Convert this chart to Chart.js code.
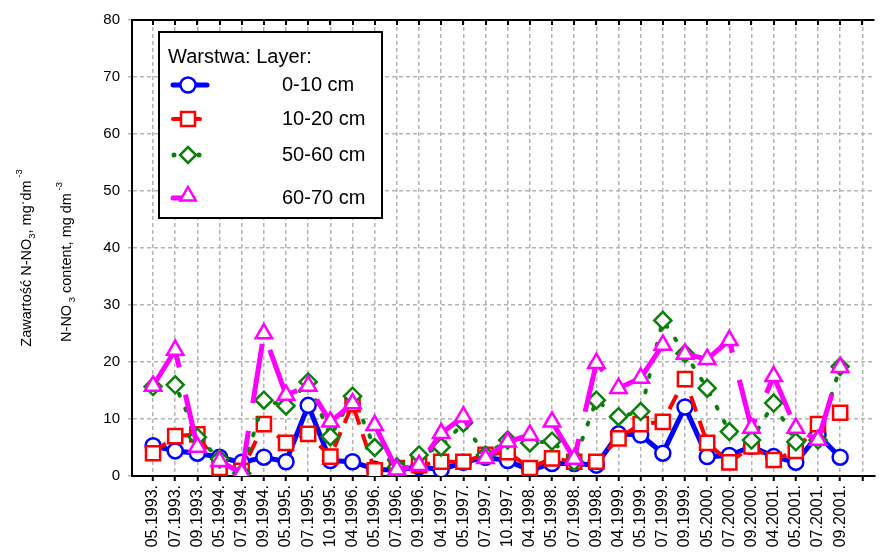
<!DOCTYPE html>
<html><head><meta charset="utf-8">
<script src="https://cdn.jsdelivr.net/npm/chart.js@4.4.1/dist/chart.umd.min.js"></script>
<style>html,body{margin:0;padding:0;background:#fff;}#wrap{width:887px;height:557px;position:relative;}</style>
</head><body><div id="wrap"><canvas id="c" width="887" height="557"></canvas></div>
<script>
const categories = ['05.1993.','07.1993.','09.1993.','05.1994.','07.1994.','09.1994.','05.1995.','07.1995.','10.1995.','04.1996.','05.1996.','07.1996.','09.1996.','04.1997.','05.1997.','07.1997.','10.1997.','04.1998.','05.1998.','07.1998.','09.1998.','04.1999.','05.1999.','07.1999.','09.1999.','05.2000.','07.2000.','09.2000.','04.2001.','05.2001.','07.2001.','09.2001.'];
const layer0_10  = [5.3,4.4,4.0,3.3,2.4,3.3,2.5,12.4,2.7,2.5,1.2,1.0,1.6,1.1,2.4,3.3,2.7,1.0,2.2,2.2,1.9,7.4,7.2,4.0,12.1,3.4,3.6,5.2,3.4,2.4,7.2,3.3];
const layer10_20 = [4.0,7.0,7.3,1.4,0.9,9.1,5.8,7.4,3.4,12.6,1.0,1.4,1.9,2.5,2.5,3.7,4.2,1.4,3.1,2.5,2.5,6.6,9.1,9.5,17.0,5.8,2.4,5.2,2.8,4.4,9.1,11.1];
const layer50_60 = [15.7,16.0,6.8,3.0,0.5,13.3,12.3,16.5,6.9,14.0,5.0,1.6,3.7,5.1,9.3,3.7,6.3,5.8,6.1,2.5,13.3,10.4,11.3,27.3,21.5,15.4,7.8,6.3,12.8,6.0,6.3,19.2];
const layer60_70 = [15.8,22.1,5.1,2.6,0.5,25.0,14.2,15.8,9.5,12.7,8.9,1.1,1.9,7.5,10.4,3.1,6.0,7.2,9.5,3.0,19.8,15.4,17.2,23.0,21.4,20.5,23.8,8.4,17.5,8.4,6.3,19.1];
const yTicks = [0,10,20,30,40,50,60,70,80];
const seriesNames = ['0-10 cm','10-20 cm','50-60 cm','60-70 cm'];
const legendTitle = 'Warstwa: Layer:';

const FONT = 'Arial, "Liberation Sans", sans-serif';
const BLUE='#0000ff', RED='#ff0000', GREEN='#0a800a', MAG='#ff00ff';
const toXY = arr => arr.map((v,i)=>({x:i,y:v}));

function mCircle(ctx,x,y,r,c,bw){ctx.beginPath();ctx.arc(x,y,r,0,Math.PI*2);ctx.fillStyle='#fff';ctx.fill();ctx.lineWidth=bw;ctx.strokeStyle=c;ctx.stroke();}
function mSquare(ctx,x,y,h,c,bw){ctx.beginPath();ctx.rect(x-h,y-h,2*h,2*h);ctx.fillStyle='#fff';ctx.fill();ctx.lineWidth=bw;ctx.strokeStyle=c;ctx.stroke();}
function mDiamond(ctx,x,y,r,c,bw){ctx.beginPath();ctx.moveTo(x,y-r);ctx.lineTo(x+r,y);ctx.lineTo(x,y+r);ctx.lineTo(x-r,y);ctx.closePath();ctx.fillStyle='#fff';ctx.fill();ctx.lineWidth=bw;ctx.strokeStyle=c;ctx.stroke();}
function mTri(ctx,x,y,r,c,bw){ctx.beginPath();ctx.moveTo(x,y-r);ctx.lineTo(x+r*0.866,y+r*0.5);ctx.lineTo(x-r*0.866,y+r*0.5);ctx.closePath();ctx.fillStyle='#fff';ctx.fill();ctx.lineWidth=bw;ctx.strokeStyle=c;ctx.stroke();}

function drawRich(ctx, parts, cx, cy, size){
  let w=0;
  parts.forEach(p=>{ctx.font=(size*(p.s||1))+'px '+FONT; p.w=ctx.measureText(p.t).width; w+=p.w;});
  ctx.save(); ctx.translate(cx,cy); ctx.rotate(-Math.PI/2);
  let x=-w/2; ctx.textBaseline='middle'; ctx.textAlign='left'; ctx.fillStyle='#000';
  parts.forEach(p=>{ctx.font=(size*(p.s||1))+'px '+FONT; ctx.fillText(p.t,x,(p.dy||0)); x+=p.w;});
  ctx.restore();
}

const decor = {
  id:'decor',
  afterDraw(chart){
    const {ctx, chartArea:a, scales:{x}} = chart;
    ctx.save();
    ctx.strokeStyle='#000'; ctx.lineWidth=2;
    ctx.beginPath(); ctx.moveTo(a.left-1,a.top); ctx.lineTo(a.right,a.top); ctx.stroke();
    for(let i=0;i<=32;i++){const px=Math.round(x.getPixelForValue(i)); ctx.beginPath(); ctx.moveTo(px,a.top); ctx.lineTo(px,a.top+5); ctx.stroke();}
    drawRich(ctx,[{t:'Zawartość N-NO'},{t:'3',s:0.65,dy:5},{t:', mg'},{t:'·',dy:-4},{t:'dm'},{t:' -3',s:0.65,dy:-8}],27,258,14.5);
    drawRich(ctx,[{t:'N-NO'},{t:' 3',s:0.65,dy:5},{t:' content, mg dm'},{t:' -3',s:0.65,dy:-8}],67,262,14.5);
    ctx.fillStyle='#fff'; ctx.fillRect(159,32,223,186);
    ctx.lineWidth=2; ctx.strokeStyle='#000'; ctx.strokeRect(159,32,223,186);
    ctx.fillStyle='#000'; ctx.font='20px '+FONT; ctx.textBaseline='middle'; ctx.textAlign='left';
    ctx.fillText(legendTitle,168,57);
    const rows=[85,119,155,198];
    seriesNames.forEach((n,i)=>{ctx.fillStyle='#000'; ctx.fillText(n,282,rows[i]);});
    ctx.lineCap='round';
    ctx.strokeStyle=BLUE; ctx.lineWidth=5; ctx.beginPath(); ctx.moveTo(173,rows[0]); ctx.lineTo(207,rows[0]); ctx.stroke();
    mCircle(ctx,188,rows[0],7.5,BLUE,2.5);
    ctx.strokeStyle=RED; ctx.lineWidth=4; ctx.beginPath(); ctx.moveTo(173,rows[1]); ctx.lineTo(200,rows[1]); ctx.stroke();
    mSquare(ctx,188,rows[1],7,RED,2.5);
    ctx.fillStyle=GREEN; ctx.beginPath(); ctx.arc(174,rows[2],2.5,0,7); ctx.fill(); ctx.beginPath(); ctx.arc(199,rows[2],2.5,0,7); ctx.fill();
    mDiamond(ctx,188,rows[2],8,GREEN,2.5);
    ctx.strokeStyle=MAG; ctx.lineWidth=5; ctx.beginPath(); ctx.moveTo(173,rows[3]); ctx.lineTo(193,rows[3]); ctx.stroke();
    mTri(ctx,188,rows[3]-2,9,MAG,2.5);
    ctx.restore();
  }
};

new Chart(document.getElementById('c'), {
  type:'line',
  data:{datasets:[
    {label:seriesNames[0], data:toXY(layer0_10), order:3, borderColor:BLUE, borderWidth:5, pointStyle:'circle', pointRadius:7.5, pointBorderWidth:2.5, pointBackgroundColor:'#fff', pointBorderColor:BLUE},
    {label:seriesNames[1], data:toXY(layer10_20), order:2, borderColor:RED, borderWidth:4, borderDash:[16,10], pointStyle:'rect', pointRadius:10, pointBorderWidth:2.5, pointBackgroundColor:'#fff', pointBorderColor:RED},
    {label:seriesNames[2], data:toXY(layer50_60), order:1, borderColor:GREEN, borderWidth:4, borderDash:[2,14], borderCapStyle:'round', pointStyle:'rectRot', pointRadius:8.5, pointBorderWidth:2.5, pointBackgroundColor:'#fff', pointBorderColor:GREEN},
    {label:seriesNames[3], data:toXY(layer60_70), order:0, borderColor:MAG, borderWidth:5, borderDash:[60,28], pointStyle:'triangle', pointRadius:9.5, pointBorderWidth:2.5, pointBackgroundColor:'#fff', pointBorderColor:MAG}
  ]},
  options:{
    responsive:false, animation:false, devicePixelRatio:1,
    layout:{padding:{top:20,right:0,left:0,bottom:0}},
    plugins:{legend:{display:false}, tooltip:{enabled:false}},
    elements:{line:{tension:0}},
    scales:{
      x:{type:'linear', min:-0.95, max:32.55,
        afterBuildTicks:s=>{s.ticks=categories.map((c,i)=>({value:i})).concat([{value:32}]);},
        afterFit:s=>{s.height=81;},
        ticks:{autoSkip:false, minRotation:90, maxRotation:90, padding:4, color:'#000', font:{size:16,family:FONT}, callback:v=>categories[v]!==undefined?categories[v]:''},
        grid:{color:'#b4b4b4', lineWidth:1.5, drawTicks:true, tickLength:5, tickColor:'#000', tickWidth:2},
        border:{display:true, color:'#000', width:2, dash:[4,3]}
      },
      y:{type:'linear', min:0, max:80,
        afterBuildTicks:s=>{s.ticks=yTicks.map(v=>({value:v}));},
        afterFit:s=>{s.width=132;},
        ticks:{color:'#000', padding:8, font:{size:15,family:FONT}},
        grid:{color:'#b4b4b4', lineWidth:1.5, tickLength:4},
        border:{display:true, color:'#000', width:2, dash:[4,3]}
      }
    }
  },
  plugins:[decor]
});
</script></body></html>
